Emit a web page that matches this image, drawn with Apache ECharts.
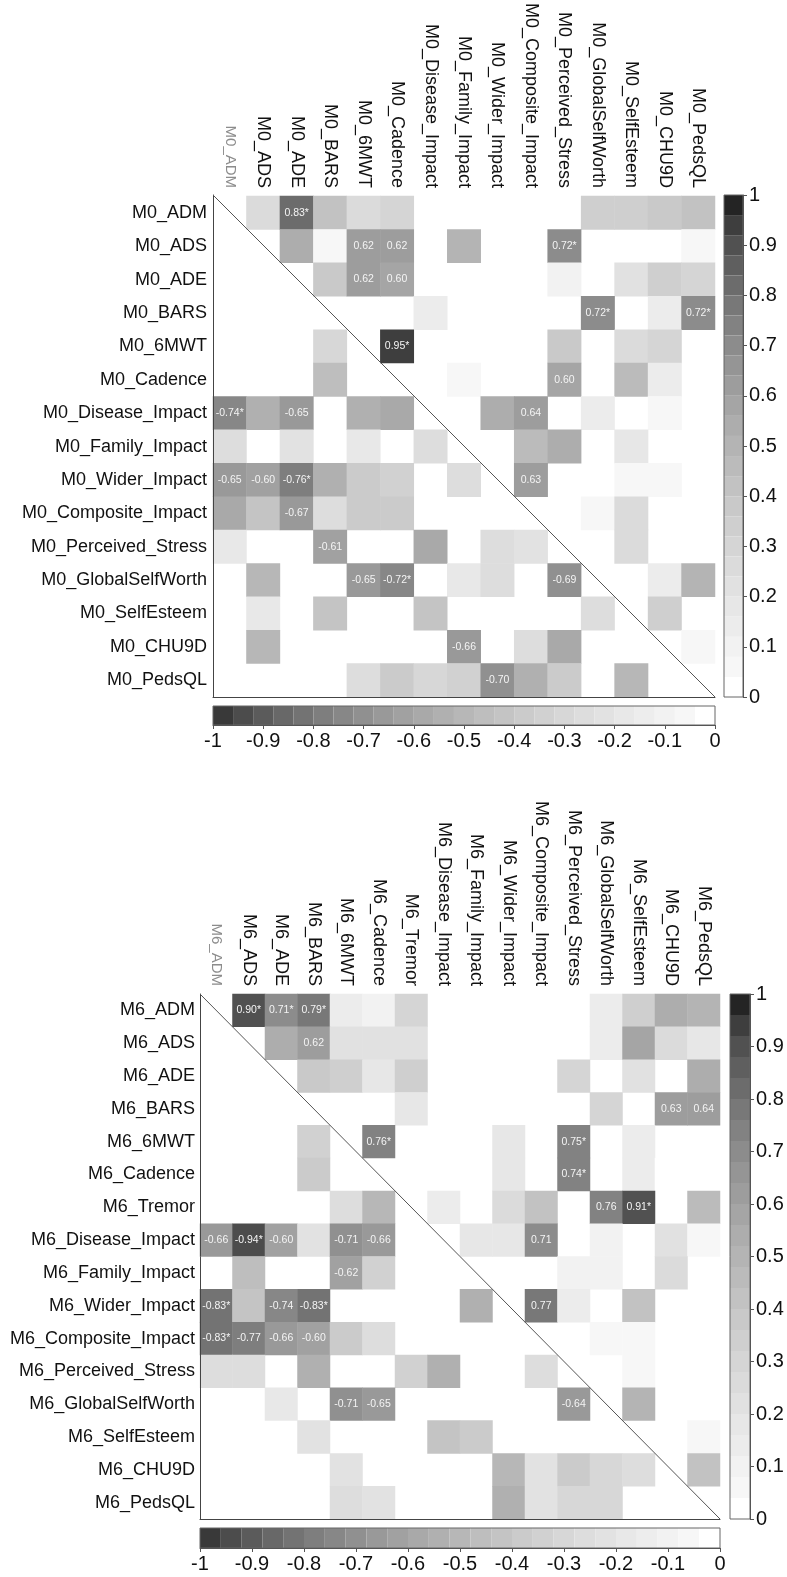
<!DOCTYPE html>
<html><head><meta charset="utf-8">
<script src="https://cdn.jsdelivr.net/npm/echarts@6/dist/echarts.min.js"></script>
<style>html,body{margin:0;padding:0;background:#fff}#c{width:787px;height:1577px}</style>
</head><body><div id="c"></div>
<script>
// ---------- DATA ----------
const m0Vars = ['M0_ADM','M0_ADS','M0_ADE','M0_BARS','M0_6MWT','M0_Cadence','M0_Disease_Impact','M0_Family_Impact','M0_Wider_Impact','M0_Composite_Impact','M0_Perceived_Stress','M0_GlobalSelfWorth','M0_SelfEsteem','M0_CHU9D','M0_PedsQL'];
const m6Vars = ['M6_ADM','M6_ADS','M6_ADE','M6_BARS','M6_6MWT','M6_Cadence','M6_Tremor','M6_Disease_Impact','M6_Family_Impact','M6_Wider_Impact','M6_Composite_Impact','M6_Perceived_Stress','M6_GlobalSelfWorth','M6_SelfEsteem','M6_CHU9D','M6_PedsQL'];
// [row, col, r, significant]
const m0Cells = [
 [0,1,0.26],[0,2,0.83,1],[0,3,0.41],[0,4,0.27],[0,5,0.30],[0,11,0.35],[0,12,0.36],[0,13,0.40],[0,14,0.44],
 [1,2,0.56],[1,3,0.07],[1,4,0.62],[1,5,0.62],[1,7,0.52],[1,10,0.72,1],[1,14,0.08],
 [2,3,0.37],[2,4,0.62],[2,5,0.60],[2,10,0.10],[2,12,0.21],[2,13,0.33],[2,14,0.32],
 [3,6,0.14],[3,11,0.72,1],[3,13,0.15],[3,14,0.72,1],
 [4,3,-0.28],[4,5,0.95,1],[4,10,0.39],[4,12,0.26],[4,13,0.29],
 [5,3,-0.45],[5,7,0.05],[5,10,0.60],[5,12,0.45],[5,13,0.16],
 [6,0,-0.74,1],[6,1,-0.55],[6,2,-0.65],[6,4,-0.52],[6,5,-0.57],[6,8,0.55],[6,9,0.64],[6,11,0.14],[6,13,0.05],
 [7,0,-0.26],[7,2,-0.20],[7,4,-0.18],[7,6,-0.26],[7,9,0.48],[7,10,0.55],[7,12,0.18],
 [8,0,-0.65],[8,1,-0.60],[8,2,-0.76,1],[8,3,-0.55],[8,4,-0.38],[8,5,-0.34],[8,7,-0.27],[8,9,0.63],[8,12,0.05],[8,13,0.05],
 [9,0,-0.58],[9,1,-0.40],[9,2,-0.67],[9,3,-0.25],[9,4,-0.38],[9,5,-0.38],[9,11,0.08],[9,12,0.26],
 [10,0,-0.16],[10,3,-0.61],[10,6,-0.57],[10,8,-0.26],[10,9,-0.22],[10,12,0.27],
 [11,1,-0.50],[11,4,-0.65],[11,5,-0.72,1],[11,7,-0.16],[11,8,-0.24],[11,10,-0.69],[11,13,0.16],[11,14,0.50],
 [12,1,-0.16],[12,3,-0.43],[12,6,-0.42],[12,11,-0.26],[12,13,0.34],
 [13,1,-0.50],[13,7,-0.66],[13,9,-0.25],[13,10,-0.58],[13,14,0.05],
 [14,4,-0.27],[14,5,-0.38],[14,6,-0.30],[14,7,-0.34],[14,8,-0.70],[14,9,-0.55],[14,10,-0.38],[14,12,-0.48]
];
const m6Cells = [
 [0,1,0.90,1],[0,2,0.71,1],[0,3,0.79,1],[0,4,0.14],[0,5,0.12],[0,6,0.32],[0,12,0.15],[0,13,0.36],[0,14,0.56],[0,15,0.52],
 [1,2,0.55],[1,3,0.62],[1,4,0.22],[1,5,0.22],[1,6,0.22],[1,12,0.15],[1,13,0.58],[1,14,0.28],[1,15,0.19],
 [2,3,0.37],[2,4,0.35],[2,5,0.18],[2,6,0.33],[2,11,0.30],[2,13,0.22],[2,15,0.54],
 [3,6,0.20],[3,12,0.30],[3,14,0.63],[3,15,0.64],
 [4,3,-0.34],[4,5,0.76,1],[4,9,0.18],[4,11,0.75,1],[4,13,0.14],
 [5,3,-0.38],[5,9,0.17],[5,11,0.74,1],[5,13,0.13],[5,14,0.04],
 [6,4,-0.26],[6,5,-0.48],[6,7,0.16],[6,9,0.28],[6,10,0.42],[6,12,0.76],[6,13,0.91,1],[6,15,0.46],
 [7,0,-0.66],[7,1,-0.94,1],[7,2,-0.60],[7,3,-0.22],[7,4,-0.71],[7,5,-0.66],[7,8,0.17],[7,9,0.17],[7,10,0.71],[7,12,0.10],[7,14,0.22],[7,15,0.05],
 [8,1,-0.45],[8,4,-0.62],[8,5,-0.35],[8,11,0.10],[8,12,0.10],[8,14,0.27],
 [9,0,-0.83,1],[9,1,-0.43],[9,2,-0.74],[9,3,-0.83,1],[9,8,-0.52],[9,10,0.77],[9,11,0.14],[9,13,0.43],
 [10,0,-0.83,1],[10,1,-0.77],[10,2,-0.66],[10,3,-0.60],[10,4,-0.38],[10,5,-0.26],[10,12,0.05],[10,13,0.08],
 [11,0,-0.26],[11,1,-0.26],[11,3,-0.55],[11,6,-0.35],[11,7,-0.55],[11,10,-0.26],[11,13,0.05],
 [12,2,-0.18],[12,4,-0.71],[12,5,-0.65],[12,11,-0.64],[12,13,0.50],
 [13,3,-0.22],[13,7,-0.43],[13,8,-0.38],[13,15,0.05],
 [14,4,-0.22],[14,9,-0.50],[14,10,-0.22],[14,11,-0.38],[14,12,-0.30],[14,13,-0.26],[14,15,0.43],
 [15,4,-0.25],[15,5,-0.20],[15,9,-0.54],[15,10,-0.22],[15,11,-0.30],[15,12,-0.28]
];
const posRange = [0, 1];      // right colour bar
const negRange = [-1, 0];     // bottom colour bar
const barTickStep = 0.1;
const labelThreshold = 0.6;

// ---------- STYLE / HELPERS ----------
const FONT = "'Liberation Sans', Arial, sans-serif";
const NB = 25, STEP = 0.04;
function gray(g){ g=Math.max(0,Math.min(255,Math.round(g))); const h=g.toString(16).padStart(2,'0'); return '#'+h+h+h; }
function posPieces(){ const a=[]; for(let i=NB-1;i>=0;i--){ const lo=i*STEP, c=lo+STEP/2; a.push({min:+lo.toFixed(2),max:+(lo+STEP).toFixed(2),color:i===0?'#ffffff':gray(255*Math.sqrt(1-c))}); } return a; }
function negPieces(){ const a=[]; for(let i=0;i<NB;i++){ const lo=-1+i*STEP, c=-(lo+STEP/2); a.push({min:+lo.toFixed(2),max:+(lo+STEP).toFixed(2),color:i===NB-1?'#ffffff':gray(255*Math.sqrt(1-0.97*c))}); } return a; }
function toData(cells, sign){ return cells.filter(c => sign>0 ? c[2]>0 : c[2]<0).map(c => ({value:[c[1], c[0], c[2]], star: !!c[3]})); }
const cellLabel = {show:true, color:'#f4f4f4', fontSize:10.5, fontFamily:FONT,
  formatter: p => Math.abs(p.value[2]) >= labelThreshold ? p.value[2].toFixed(2) + (p.data.star ? '*' : '') : ''};

const G = {
  top:    {left:213, top:195, width:502, height:502},
  bot:    {left:200, top:994, width:520, height:525},
  topR:   {left:724, top:195, width:19, height:502},
  topB:   {left:213, top:706, width:502, height:19},
  botR:   {left:730, top:994, width:20, height:525},
  botB:   {left:200, top:1528, width:520, height:20}
};
function catX(gi, vars){ return {gridIndex:gi, type:'category', data:vars, position:'top',
  axisLine:{show:false}, axisTick:{show:false}, splitLine:{show:false},
  axisLabel:{rotate:90, interval:0, fontSize:18, color:'#111', fontFamily:FONT, margin:8,
    formatter:(v,i)=> i===0 ? '{f|'+v+'}' : v, rich:{f:{color:'#8c8c8c', fontSize:15, fontFamily:FONT}}}}; }
function catY(gi, vars, m){ return {gridIndex:gi, type:'category', data:vars, inverse:true,
  axisLine:{show:false}, axisTick:{show:false}, splitLine:{show:false},
  axisLabel:{interval:0, fontSize:18, color:'#111', fontFamily:FONT, margin:m}}; }
function frameX(gi){ return {gridIndex:gi, type:'value', min:0, max:1, position:'bottom', z:5,
  axisLine:{show:true, onZero:false, lineStyle:{color:'#444', width:1}}, axisTick:{show:false}, axisLabel:{show:false}, splitLine:{show:false}}; }
function frameY(gi){ return {gridIndex:gi, type:'value', min:0, max:1, position:'left', z:5,
  axisLine:{show:true, onZero:false, lineStyle:{color:'#444', width:1}}, axisTick:{show:false}, axisLabel:{show:false}, splitLine:{show:false}}; }
function hidden(gi, r){ return {gridIndex:gi, type:'value', min:r[0], max:r[1], show:false}; }
function barAxis(gi, r, pos){ return {gridIndex:gi, type:'value', min:r[0], max:r[1], interval:barTickStep, position:pos, z:10,
  axisLine:{show:true, onZero:false, lineStyle:{color:'#555', width:1}},
  axisTick:{show:true, length:4, lineStyle:{color:'#555'}},
  axisLabel:{fontSize:20, color:'#111', fontFamily:FONT, margin:6}, splitLine:{show:false}}; }
const barGrid = g => Object.assign({show:true, borderColor:'#666', borderWidth:1, z:10, backgroundColor:'transparent'}, g);

const option = {
  animation:false,
  backgroundColor:'#fff',
  grid:[G.top, G.bot, G.top, G.bot, barGrid(G.topR), barGrid(G.topB), barGrid(G.botR), barGrid(G.botB)],
  xAxis:[catX(0,m0Vars), catX(1,m6Vars), frameX(2), frameX(3),
         hidden(4,[0,1]), barAxis(5,negRange,'bottom'), hidden(6,[0,1]), barAxis(7,negRange,'bottom')],
  yAxis:[catY(0,m0Vars,6), catY(1,m6Vars,5), frameY(2), frameY(3),
         barAxis(4,posRange,'right'), hidden(5,[0,1]), barAxis(6,posRange,'right'), hidden(7,[0,1])],
  visualMap:[
    {type:'piecewise', seriesIndex:0, orient:'vertical', left:G.topR.left, top:G.topR.top, itemWidth:G.topR.width, itemHeight:G.topR.height/NB, itemGap:0, itemSymbol:'rect', showLabel:false, padding:0, selectedMode:false, hoverLink:false, pieces:posPieces()},
    {type:'piecewise', seriesIndex:1, orient:'horizontal', left:G.topB.left, top:G.topB.top, itemWidth:G.topB.width/NB, itemHeight:G.topB.height, itemGap:0, itemSymbol:'rect', showLabel:false, padding:0, selectedMode:false, hoverLink:false, pieces:negPieces()},
    {type:'piecewise', seriesIndex:2, orient:'vertical', left:G.botR.left, top:G.botR.top, itemWidth:G.botR.width, itemHeight:G.botR.height/NB, itemGap:0, itemSymbol:'rect', showLabel:false, padding:0, selectedMode:false, hoverLink:false, pieces:posPieces()},
    {type:'piecewise', seriesIndex:3, orient:'horizontal', left:G.botB.left, top:G.botB.top, itemWidth:G.botB.width/NB, itemHeight:G.botB.height, itemGap:0, itemSymbol:'rect', showLabel:false, padding:0, selectedMode:false, hoverLink:false, pieces:negPieces()}
  ],
  series:[
    {type:'heatmap', xAxisIndex:0, yAxisIndex:0, data:toData(m0Cells,1), label:cellLabel},
    {type:'heatmap', xAxisIndex:0, yAxisIndex:0, data:toData(m0Cells,-1), label:cellLabel},
    {type:'heatmap', xAxisIndex:1, yAxisIndex:1, data:toData(m6Cells,1), label:cellLabel},
    {type:'heatmap', xAxisIndex:1, yAxisIndex:1, data:toData(m6Cells,-1), label:cellLabel},
    {type:'line', xAxisIndex:2, yAxisIndex:2, data:[[0,1],[1,0]], symbol:'none', z:5, lineStyle:{color:'#555', width:1}},
    {type:'line', xAxisIndex:3, yAxisIndex:3, data:[[0,1],[1,0]], symbol:'none', z:5, lineStyle:{color:'#555', width:1}}
  ]
};
const chart = echarts.init(document.getElementById('c'), null, {renderer:'canvas'});
chart.setOption(option);
</script></body></html>
